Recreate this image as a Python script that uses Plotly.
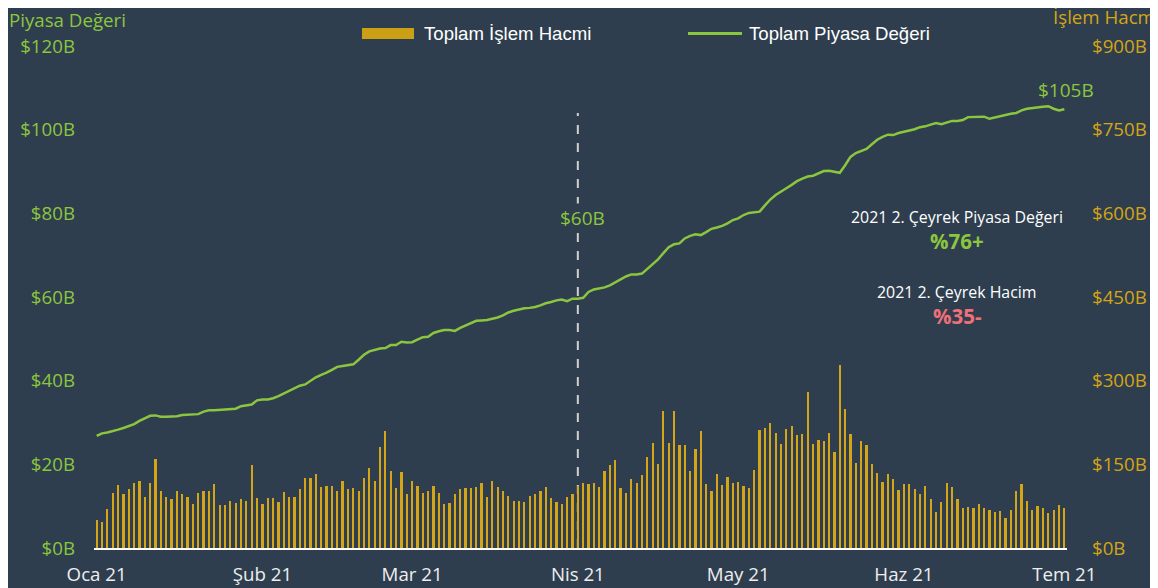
import plotly.graph_objects as go
import pandas as pd

# ---------------- data ----------------
dates = pd.date_range("2021-01-01", "2021-07-01", freq="D")

volume_b = [51, 47, 70, 99, 113, 97, 106, 117, 121, 91, 117, 159, 102, 91, 87, 102, 97, 92, 78, 99,
            102, 103, 114, 77, 77, 84, 81, 88, 85, 148, 90, 79, 90, 89, 83, 100, 91, 92, 105, 125,
            126, 133, 109, 112, 112, 102, 120, 106, 108, 103, 126, 144, 120, 181, 209, 138, 108, 137, 97, 120,
            111, 99, 102, 111, 99, 78, 81, 97, 106, 108, 108, 109, 116, 92, 121, 109, 102, 93, 84, 85,
            83, 94, 96, 103, 109, 90, 83, 78, 92, 96, 112, 117, 114, 117, 109, 138, 149, 158, 108, 99,
            124, 117, 131, 163, 189, 151, 246, 189, 246, 185, 185, 138, 178, 210, 114, 103, 133, 113, 127, 117,
            118, 112, 108, 139, 212, 215, 225, 207, 186, 214, 218, 203, 205, 279, 187, 193, 191, 207, 173, 328,
            249, 205, 152, 191, 184, 151, 134, 118, 132, 124, 104, 115, 114, 105, 96, 111, 88, 65, 83, 117,
            110, 87, 72, 74, 72, 79, 71, 69, 65, 67, 54, 68, 102, 115, 84, 68, 75, 71, 63, 69,
            77, 72]

market_cap_b = [26.8, 27.4, 27.6, 27.9, 28.3, 28.7, 29.1, 29.6, 30.4, 31.0, 31.6, 31.7, 31.4, 31.4, 31.4,
                31.5, 31.8, 31.9, 32.0, 32.0, 32.6, 32.9, 32.9, 33.0, 33.1, 33.2, 33.3, 33.9, 34.1, 34.3,
                35.3, 35.5, 35.5, 35.8, 36.3, 36.9, 37.5, 38.1, 38.8, 39.1, 40.0, 40.8, 41.4, 41.9, 42.6,
                43.3, 43.5, 43.7, 43.9, 45.0, 46.2, 47.0, 47.3, 47.7, 47.8, 48.5, 48.5, 49.3, 49.1, 49.2,
                49.8, 50.4, 50.5, 51.4, 51.8, 52.1, 52.1, 51.9, 52.6, 53.2, 53.8, 54.3, 54.4, 54.5, 54.8,
                55.1, 55.6, 56.3, 56.7, 57.0, 57.3, 57.4, 57.6, 58.0, 58.5, 58.8, 59.2, 59.4, 59.0, 59.6,
                59.6, 59.8, 61.2, 61.8, 62.1, 62.3, 62.8, 63.5, 64.3, 64.9, 65.4, 65.4, 65.6, 66.8, 67.8,
                69.0, 70.5, 71.9, 72.6, 72.8, 74.0, 74.6, 75.0, 74.8, 75.5, 76.3, 76.6, 77.0, 77.6, 78.4,
                78.8, 79.6, 80.1, 80.3, 80.4, 81.9, 83.3, 84.4, 85.3, 86.0, 86.8, 87.7, 88.3, 88.8, 89.0,
                89.6, 90.1, 90.2, 89.9, 89.7, 91.5, 93.5, 94.4, 94.9, 95.4, 96.5, 97.6, 98.3, 98.8, 98.7,
                99.2, 99.5, 99.8, 100.1, 100.6, 100.8, 101.2, 101.6, 101.3, 101.7, 102.1, 102.1, 102.3, 103.0, 103.0,
                103.1, 103.1, 102.6, 102.9, 103.3, 103.5, 103.8, 104.0, 104.6, 105.0, 105.2, 105.3, 105.5, 105.6, 105.0,
                104.6, 104.9]

month_ticks = ["2021-01-01", "2021-02-01", "2021-03-01", "2021-04-01", "2021-05-01", "2021-06-01", "2021-07-01"]
month_labels = ["Oca 21", "Şub 21", "Mar 21", "Nis 21", "May 21", "Haz 21", "Tem 21"]
cap_ticks = [0, 20, 40, 60, 80, 100, 120]
cap_labels = ["$0B", "$20B", "$40B", "$60B", "$80B", "$100B", "$120B"]
vol_ticks = [0, 150, 300, 450, 600, 750, 900]
vol_labels = ["$0B", "$150B", "$300B", "$450B", "$600B", "$750B", "$900B"]

series_names = ["Toplam İşlem Hacmi", "Toplam Piyasa Değeri"]
marker_date = "2021-04-01"
marker_label = "$60B"
end_label = "$105B"

# ---------------- style ----------------
BG = "#2e3e4e"
GREEN = "#8cc63f"
GOLD = "#d4a516"
PINK = "#f07078"
WHITE = "#ffffff"
FONT = "Open Sans, Noto Sans, sans-serif"
LEG_FONT = "Arial, Liberation Sans, sans-serif"
DAY_MS = 86400000

# plot-area geometry in screen pixels (used only to place paper-referenced texts)
PL, PW, PB, PH = 94, 973, 548, 502


def px(x):
    return (x - PL) / PW


def py(y):
    return (PB - y) / PH


fig = go.Figure()
fig.add_trace(go.Bar(
    x=dates, y=volume_b, name=series_names[0],
    marker=dict(color=GOLD, line=dict(width=0)),
    width=0.42 * DAY_MS, yaxis="y", showlegend=False,
))
fig.add_trace(go.Scatter(
    x=dates, y=market_cap_b, name=series_names[1], mode="lines",
    line=dict(color=GREEN, width=2.5), yaxis="y2", showlegend=False,
))

shapes = [
    dict(type="line", xref="x", yref="y2", x0=marker_date, x1=marker_date, y0=0, y1=104,
         line=dict(color="#d0d0d0", width=2, dash="dash"), layer="below"),
    # legend swatches
    dict(type="rect", xref="paper", yref="paper", x0=px(362), x1=px(414), y0=py(39), y1=py(28),
         fillcolor="#cca015", line=dict(width=0)),
    dict(type="line", xref="paper", yref="paper", x0=px(688), x1=px(742), y0=py(33.5), y1=py(33.5),
         line=dict(color=GREEN, width=3)),
]

ann = [
    dict(xref="paper", yref="paper", x=px(422), y=py(33), xanchor="left", yanchor="middle",
         text=series_names[0], showarrow=False, font=dict(color=WHITE, size=18.6, family=LEG_FONT)),
    dict(xref="paper", yref="paper", x=px(747), y=py(33), xanchor="left", yanchor="middle",
         text=series_names[1], showarrow=False, font=dict(color=WHITE, size=18.6, family=LEG_FONT)),
    dict(xref="x", yref="y2", x=marker_date, y=78.9, text=marker_label, showarrow=False, xshift=5,
         font=dict(color=GREEN, size=19, family=FONT), bgcolor=BG),
    dict(xref="x", yref="y2", x=dates[-1], y=109.5, text=end_label, showarrow=False, xshift=2,
         font=dict(color=GREEN, size=19, family=FONT), bgcolor=BG),
    dict(xref="paper", yref="paper", x=px(8), y=py(19), xanchor="left", yanchor="middle",
         text="Piyasa Değeri", showarrow=False, borderpad=0,
         font=dict(color=GREEN, size=18.7, family=FONT)),
    dict(xref="paper", yref="paper", x=px(1052), y=py(16), xanchor="left", yanchor="middle",
         text="İşlem Hacmi", showarrow=False, borderpad=0,
         font=dict(color=GOLD, size=18.7, family=FONT)),
    dict(xref="paper", yref="paper", x=px(957), y=py(217), xanchor="center", yanchor="middle",
         text="2021 2. Çeyrek Piyasa Değeri", showarrow=False, borderpad=0,
         font=dict(color=WHITE, size=15.9, family=FONT)),
    dict(xref="paper", yref="paper", x=px(957), y=py(241), xanchor="center", yanchor="middle",
         text="<b>%76+</b>", showarrow=False, borderpad=0,
         font=dict(color=GREEN, size=20.5, family=FONT)),
    dict(xref="paper", yref="paper", x=px(957), y=py(292), xanchor="center", yanchor="middle",
         text="2021 2. Çeyrek Hacim", showarrow=False, borderpad=0,
         font=dict(color=WHITE, size=15.9, family=FONT)),
    dict(xref="paper", yref="paper", x=px(957), y=py(316), xanchor="center", yanchor="middle",
         text="<b>%35-</b>", showarrow=False, borderpad=0,
         font=dict(color=PINK, size=20.5, family=FONT)),
]

fig.update_layout(
    width=1158, height=588,
    paper_bgcolor=BG, plot_bgcolor=BG,
    margin=dict(l=86, r=99, t=38, b=48, pad=0),
    font=dict(family=FONT, color=WHITE),
    bargap=0,
    showlegend=False,
    xaxis=dict(type="date", range=["2020-12-31 12:00", "2021-07-01 12:00"], automargin=False,
               tickvals=month_ticks, ticktext=month_labels, showgrid=False, zeroline=False,
               showline=True, linecolor=WHITE, linewidth=2, ticks="", ticklabelstandoff=9,
               tickfont=dict(size=18.7, color="#eeeeee", family=FONT)),
    yaxis=dict(side="right", range=[0, 900], tickvals=vol_ticks, ticktext=vol_labels, automargin=False,
               showgrid=False, zeroline=False, showline=False, ticks="",
               tickfont=dict(size=18.7, color=GOLD, family=FONT), ticklabelstandoff=24),
    yaxis2=dict(side="left", overlaying="y", range=[0, 120], tickvals=cap_ticks, ticktext=cap_labels,
                automargin=False, showgrid=False, zeroline=False, showline=False, ticks="",
                tickfont=dict(size=18.7, color=GREEN, family=FONT), ticklabelstandoff=18),
    shapes=shapes,
    annotations=ann,
)

fig.write_html("out.html")
